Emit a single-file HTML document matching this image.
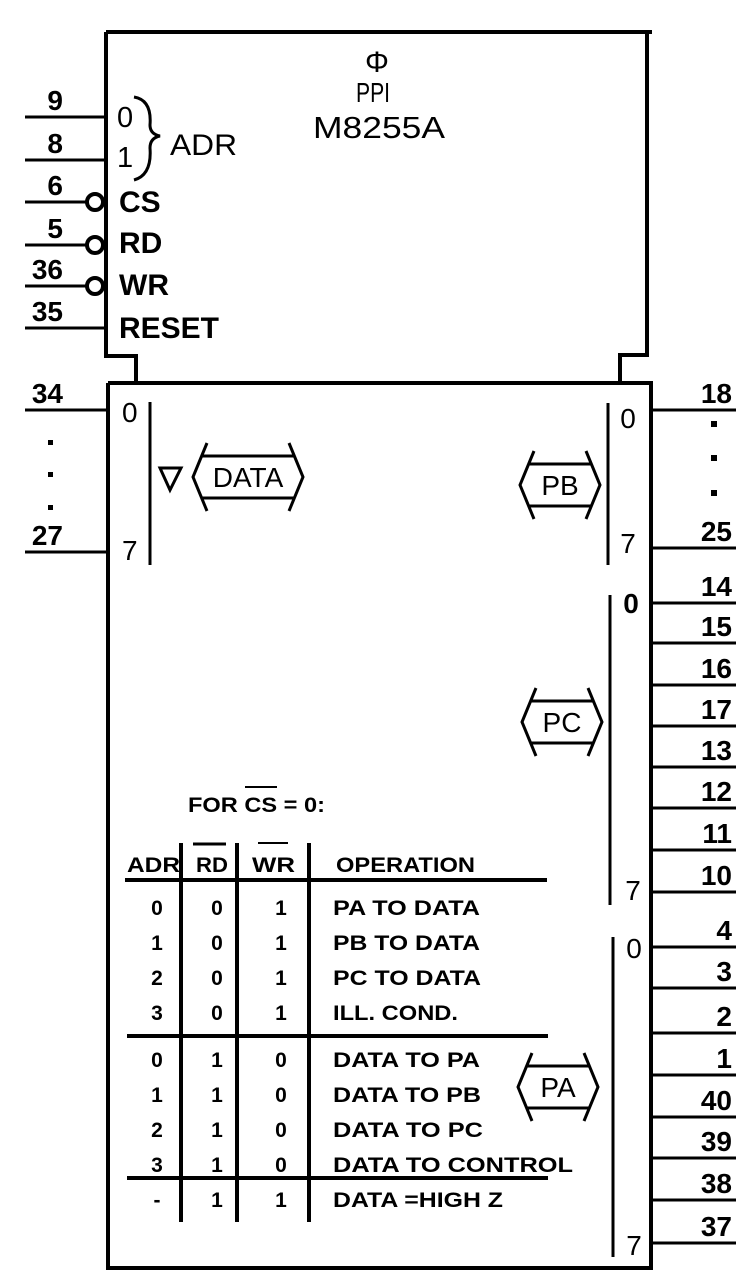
<!DOCTYPE html>
<html><head><meta charset="utf-8">
<style>
html,body{margin:0;padding:0;background:#fff;}
svg{display:block;}
text{font-family:"Liberation Sans",Arial,sans-serif;fill:#000;}
.b{font-weight:bold;}
</style></head>
<body>
<svg id="sch" width="756" height="1279" viewBox="0 0 756 1279" xmlns="http://www.w3.org/2000/svg">
<g fill="none" stroke="#000" stroke-width="4">
  <polyline points="106,32 652,32"/>
  <polyline points="106,32 106,356 136,356 136,383"/>
  <polyline points="647,32 647,355 620,355 620,383"/>
  <polyline points="108,383 651,383 651,1268 108,1268 108,383"/>
</g>
<g>
  <text x="377" y="72" font-size="30" text-anchor="middle" font-family="Liberation Serif">Φ</text>
  <text x="373" y="102" font-size="28" text-anchor="middle" textLength="34" lengthAdjust="spacingAndGlyphs">PPI</text>
  <text x="379" y="138" font-size="31" text-anchor="middle" textLength="132" lengthAdjust="spacingAndGlyphs">M8255A</text>
</g>
<g>
  <text x="117" y="127" font-size="29">0</text>
  <text x="117" y="167" font-size="29">1</text>
  <path d="M134,97 Q152,100 150,125 Q150,134 160,136 Q150,138 150,148 Q152,175 134,180" fill="none" stroke="#000" stroke-width="3"/>
  <text x="170" y="155" font-size="30" textLength="67" lengthAdjust="spacingAndGlyphs">ADR</text>
  <text x="119" y="212" font-size="30" class="b">CS</text>
  <text x="119" y="253" font-size="30" class="b">RD</text>
  <text x="119" y="295" font-size="30" class="b">WR</text>
  <text x="119" y="338" font-size="30" class="b" textLength="100" lengthAdjust="spacingAndGlyphs">RESET</text>
</g>
<g id="pins"></g>
<g>
  <text x="122" y="422" font-size="28">0</text>
  <text x="122" y="560" font-size="28">7</text>
  <line x1="150" y1="402" x2="150" y2="565" stroke="#000" stroke-width="3"/>
  <polygon points="160,468 181,468 170,490" fill="none" stroke="#000" stroke-width="3"/>
  <text x="628" y="428" font-size="28" text-anchor="middle">0</text>
  <text x="628" y="553" font-size="28" text-anchor="middle">7</text>
  <line x1="608" y1="403" x2="608" y2="565" stroke="#000" stroke-width="3"/>
  <text x="631" y="613" font-size="28" text-anchor="middle" class="b">0</text>
  <text x="633" y="900" font-size="28" text-anchor="middle">7</text>
  <line x1="610" y1="595" x2="610" y2="905" stroke="#000" stroke-width="3"/>
  <text x="634" y="958" font-size="28" text-anchor="middle">0</text>
  <text x="634" y="1255" font-size="28" text-anchor="middle">7</text>
  <line x1="613" y1="937" x2="613" y2="1257" stroke="#000" stroke-width="3"/>
</g>
<g id="buses"></g>
<g>
  <text x="188" y="812" font-size="21" class="b" textLength="137" lengthAdjust="spacingAndGlyphs">FOR CS = 0:</text>
  <line x1="245" y1="787" x2="277" y2="787" stroke="#000" stroke-width="2"/>
  <text x="127" y="872" font-size="21" class="b" textLength="53" lengthAdjust="spacingAndGlyphs">ADR</text>
  <text x="196" y="872" font-size="21" class="b" textLength="32" lengthAdjust="spacingAndGlyphs">RD</text>
  <line x1="193" y1="844" x2="226" y2="844" stroke="#000" stroke-width="3"/>
  <text x="252" y="872" font-size="21" class="b" textLength="43" lengthAdjust="spacingAndGlyphs">WR</text>
  <line x1="258" y1="843" x2="288" y2="843" stroke="#000" stroke-width="2"/>
  <text x="336" y="872" font-size="21" class="b" textLength="139" lengthAdjust="spacingAndGlyphs">OPERATION</text>
  <g stroke="#000" stroke-width="4">
    <line x1="125" y1="880" x2="547" y2="880"/>
    <line x1="127" y1="1036" x2="548" y2="1036"/>
    <line x1="127" y1="1178" x2="548" y2="1178"/>
    <line x1="181" y1="843" x2="181" y2="1222"/>
    <line x1="237" y1="843" x2="237" y2="1222"/>
    <line x1="309" y1="843" x2="309" y2="1222"/>
  </g>
  <g id="rows"></g>
</g>
</svg>
<script>
const leftPins = ["9","8","6","5","36","35","34","27"];
const leftPinY = [117,160,202,245,286,328,410,552];
const leftInverted = [false,false,true,true,true,false,false,false];
const rightPins = ["18","25","14","15","16","17","13","12","11","10","4","3","2","1","40","39","38","37"];
const rightPinY = [410,548,603,643,685,726,767,808,850,892,947,988,1033,1075,1117,1158,1200,1243];
const adrCol = ["0","1","2","3","0","1","2","3","-"];
const rdCol = ["0","0","0","0","1","1","1","1","1"];
const wrCol = ["1","1","1","1","0","0","0","0","1"];
const opCol = ["PA TO DATA","PB TO DATA","PC TO DATA","ILL. COND.","DATA TO PA","DATA TO PB","DATA TO PC","DATA TO  CONTROL","DATA =HIGH Z"];
const opW = [147,147,148,125,147,148,150,240,170];
const rowY = [915,950,985,1020,1067,1102,1137,1172,1207];
const buses = ["DATA","PB","PC","PA"];
const busX = [193,520,522,518];
const busY = [477,485,722,1087];
const busW = [110,80,80,80];

const NS="http://www.w3.org/2000/svg";
function mk(tag,attrs,parent){const e=document.createElementNS(NS,tag);for(const k in attrs)e.setAttribute(k,attrs[k]);parent.appendChild(e);return e;}
const pins=document.getElementById('pins');
leftPins.forEach((p,i)=>{
  const y=leftPinY[i];
  const l=mk('line',{x1:25,y1:y,x2:leftInverted[i]?86:108,y2:y,stroke:'#000','stroke-width':3},pins);
  
  
  if(leftInverted[i]){const c=mk('circle',{cx:95,cy:y,r:8,fill:'none',stroke:'#000','stroke-width':4},pins);
    
    }
  const t=mk('text',{x:63,y:y-7,'font-size':28,'text-anchor':'end','class':'b'},pins);
  t.textContent=p;
  
  
});
[440,472,505].forEach(y=>{const d=mk('rect',{x:48,y:y,width:5,height:5,fill:'#000'},pins);
  
  });
[421,455,490].forEach(y=>{const d=mk('rect',{x:711,y:y,width:6,height:6,fill:'#000'},pins);
  
  });
rightPins.forEach((p,i)=>{
  const y=rightPinY[i];
  const l=mk('line',{x1:651,y1:y,x2:736,y2:y,stroke:'#000','stroke-width':3},pins);
  
  
  const t=mk('text',{x:732,y:y-7,'font-size':28,'text-anchor':'end','class':'b'},pins);
  t.textContent=p;
  
  
});
const bg=document.getElementById('buses');
buses.forEach((b,i)=>{
  const x=busX[i],y=busY[i],w=busW[i];
  const g=mk('g',{},bg);
  
  
  const a={fill:'none',stroke:'#000','stroke-width':3};
  mk('polyline',Object.assign({points:`${x+14},${y-34} ${x},${y} ${x+14},${y+34}`},a),g);
  mk('polyline',Object.assign({points:`${x+w-14},${y-34} ${x+w},${y} ${x+w-14},${y+34}`},a),g);
  mk('line',Object.assign({x1:x+9,y1:y-21,x2:x+w-9,y2:y-21},a),g);
  mk('line',Object.assign({x1:x+9,y1:y+21,x2:x+w-9,y2:y+21},a),g);
  const t=mk('text',{x:x+w/2,y:y+10,'font-size':28,'text-anchor':'middle'},g);
  t.textContent=b;
});
const rows=document.getElementById('rows');
rowY.forEach((y,i)=>{
  const g=mk('g',{},rows);
  
  
  const a=mk('text',{x:157,y:y,'font-size':21,'text-anchor':'middle','class':'b'},g);a.textContent=adrCol[i];
  const r=mk('text',{x:217,y:y,'font-size':21,'text-anchor':'middle','class':'b'},g);r.textContent=rdCol[i];
  const w=mk('text',{x:281,y:y,'font-size':21,'text-anchor':'middle','class':'b'},g);w.textContent=wrCol[i];
  const o=mk('text',{x:333,y:y,'font-size':21,'class':'b',textLength:opW[i],lengthAdjust:'spacingAndGlyphs'},g);o.textContent=opCol[i];
});
</script>
</body></html>
